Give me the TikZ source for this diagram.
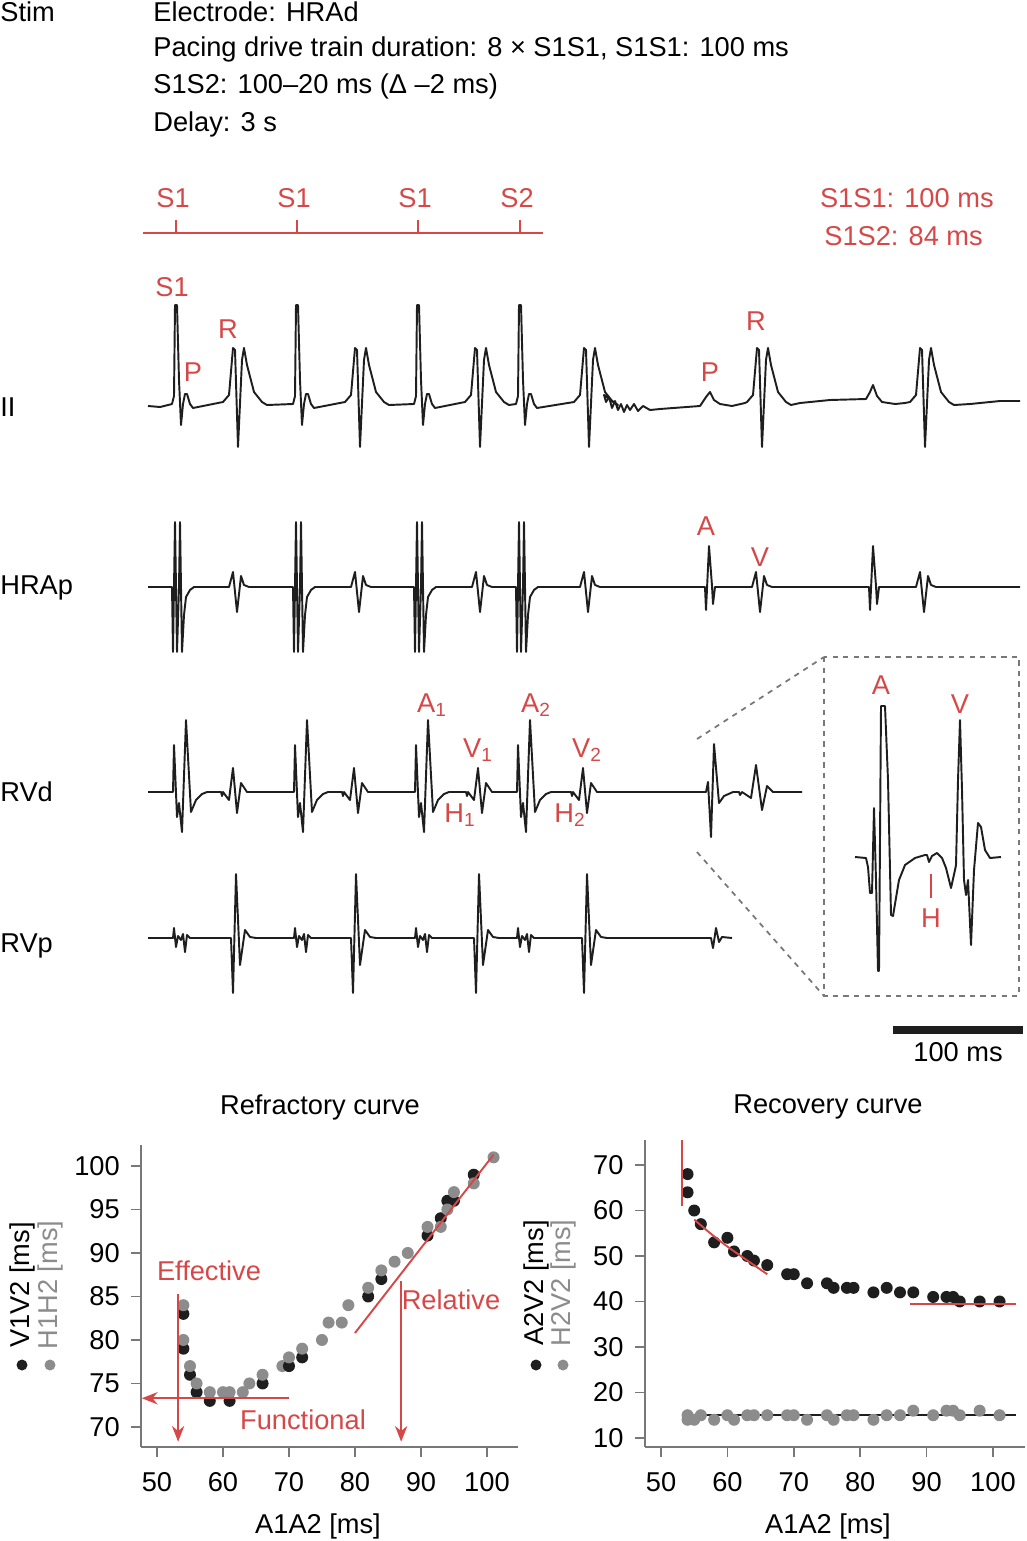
\documentclass[tikz,border=0pt]{standalone}
\usepackage{fontspec}
\setmainfont{Liberation Sans}
\usetikzlibrary{arrows.meta}
\definecolor{lblred}{RGB}{214,72,72}
\definecolor{dotgray}{RGB}{140,140,140}
\definecolor{axgray}{RGB}{120,120,120}
\definecolor{ink}{RGB}{30,30,30}

% beat pieces, S/V/A = x position of the spike
\newcommand\IIstim[1]{-- (#1-4,404) -- (#1-2,396) -- (#1-1,305) -- (#1+1,305) -- (#1+3,380) -- (#1+5,425) -- (#1+7,404) -- (#1+9,394) -- (#1+11,394) -- (#1+14,404) -- (#1+17,408)}
\newcommand\IIqrs[1]{-- (#1-14,402) -- (#1-8,395) -- (#1-4,348) -- (#1-2,350) -- (#1+1,447) -- (#1+5,360) -- (#1+7,348) -- (#1+10,365) -- (#1+17,392) -- (#1+25,402) -- (#1+30,405)}
\newcommand\Astim[1]{-- (#1-4,587) -- (#1-3,652) -- (#1-1,522) -- (#1+1,652) -- (#1+3,587) -- (#1+4,522) -- (#1+6,652) -- (#1+8,615) -- (#1+10,597) -- (#1+14,590) -- (#1+18,587)}
\newcommand\Av[1]{-- (#1-8,587) -- (#1-4,572) -- (#1,612) -- (#1+4,576) -- (#1+7,585) -- (#1+12,587)}
\newcommand\Aa[1]{-- (#1-4,587) -- (#1-3,610) -- (#1,546) -- (#1+3,586) -- (#1+4,604) -- (#1+6,587)}
\newcommand\Rbeat[2]{-- (#1-1,792) -- (#1,745) -- (#1+3,817) -- (#1+5,803) -- (#1+8,832) -- (#1+12,720) -- (#1+17,812) -- (#1+22,800) -- (#1+28,794) -- (#1+33,792) -- (#2-12,792) -- (#2-11,796) -- (#2-10,792) -- (#2-4,800) -- (#2,768) -- (#2+4,813) -- (#2+8,783) -- (#2+14,792)}
\newcommand\Pbeat[2]{-- (#1-1,938) -- (#1,928) -- (#1+2,947) -- (#1+4,936) -- (#1+7,940) -- (#1+9,934) -- (#1+11,952) -- (#1+13,935) -- (#1+16,938) -- (#2-5,938) -- (#2-3,993) -- (#2,874) -- (#2+4,965) -- (#2+9,930) -- (#2+14,937) -- (#2+20,938)}

\begin{document}
\begin{tikzpicture}[x=0.02cm,y=-0.02cm,
  font=\fontsize{15.5}{18}\selectfont,
  txt/.style={inner sep=0pt},
  lbl/.style={inner sep=0pt,text=lblred},
  trace/.style={ink,line width=1.1pt,line join=round},
  redln/.style={lblred,line width=1.1pt},
  redarr/.style={lblred,line width=1.1pt,-{Stealth[length=9pt,width=7pt]}},
  axis/.style={axgray,line width=1pt}]
\useasboundingbox (0,0) rectangle (1027,1541);

% header
\node[txt,anchor=west] (stim) at (0,12) {Stim};
\node[txt,anchor=west] (l1) at (153,12) {Electrode: HRAd};
\node[txt,anchor=west] (l2) at (153,49) {Pacing drive train duration: 8 × S1S1, S1S1: 100 ms};
\node[txt,anchor=west] (l3) at (153,86) {S1S2: 100–20 ms (Δ –2 ms)};
\node[txt,anchor=west] (l4) at (153,124) {Delay: 3 s};

% stimulus line
\draw[lblred,line width=0.6pt] (143,233) -- (543,233);
\foreach \s/\t in {176/S1,297/S1,418/S1,520/S2}{
  \draw[lblred,line width=0.6pt] (\s,220) -- (\s,233);
  \node[lbl] at (\s-3,198) {\t};}
\node[lbl,anchor=east] (s1s1) at (994,198) {S1S1: 100 ms};
\node[lbl,anchor=west] (s1s2) at (824,236) {S1S2: 84 ms};

% lead labels
\node[txt,anchor=west] (ii) at (0,407) {II};
\node[txt,anchor=west] (hrap) at (0,588) {HRAp};
\node[txt,anchor=west] (rvd) at (0,792) {RVd};
\node[txt,anchor=west] (rvp) at (0,946) {RVp};

% lead II
\draw[trace] (148,406) -- (160,407) \IIstim{176} \IIqrs{237} \IIstim{297} \IIqrs{359} \IIstim{418} \IIqrs{479} \IIstim{520} \IIqrs{588}
  -- (604,395) -- (606,402) -- (609,397) -- (612,408) -- (615,401) -- (618,410) -- (621,404) -- (624,412) -- (627,405) -- (630,410) -- (634,404) -- (638,411) -- (643,406) -- (650,410) -- (660,409) -- (700,406) -- (706,397) -- (710,392) -- (714,400) -- (720,404) -- (732,406) -- (745,403)
  \IIqrs{761} -- (800,403) -- (830,400) -- (866,399) -- (870,392) -- (873,385) -- (877,396) -- (882,402) -- (895,404) -- (905,403) \IIqrs{924} -- (970,404) -- (1000,401) -- (1020,401);
\node[lbl] at (172,287) {S1};
\node[lbl] at (228,329) {R};
\node[lbl] at (193,372) {P};
\node[lbl] at (756,321) {R};
\node[lbl] at (710,372) {P};

% HRAp
\draw[trace] (148,587) \Astim{176} \Av{237} \Astim{297} \Av{359} \Astim{418} \Av{480} \Astim{520} \Av{588}
  \Aa{709} \Av{760} \Aa{873} \Av{924} -- (1020,587);
\node[lbl] at (706,526) {A};
\node[lbl] at (760,557) {V};

% RVd
\draw[trace] (148,792) \Rbeat{174}{233} \Rbeat{295}{354} \Rbeat{416}{478} \Rbeat{518}{583}
  -- (706,792) -- (708,782) -- (711,837) -- (714,744) -- (719,803) -- (724,796) -- (733,792) -- (739,792) -- (740,795) -- (742,792) -- (751,798) -- (756,765) -- (762,810) -- (767,786) -- (773,792) -- (802,792);
\node[lbl] at (432,705) {A\textsubscript{1}};
\node[lbl] at (478,750) {V\textsubscript{1}};
\node[lbl] at (536,705) {A\textsubscript{2}};
\node[lbl] at (587,750) {V\textsubscript{2}};
\node[lbl] at (460,815) {H\textsubscript{1}};
\node[lbl] at (570,815) {H\textsubscript{2}};

% RVp
\draw[trace] (148,938) \Pbeat{174}{236} \Pbeat{295}{356} \Pbeat{416}{479} \Pbeat{518}{587}
  -- (711,938) -- (713,948) -- (716,928) -- (719,942) -- (722,937) -- (732,938);

% inset
\draw[axgray,dashed,line width=1pt] (824,657) rectangle (1019,996);
\draw[axgray,dashed,line width=1pt] (697,739) -- (824,657);
\draw[axgray,dashed,line width=1pt] (697,852) -- (824,996);
\draw[trace] (855,857) -- (866,858) -- (868,867) -- (870,893) -- (872,893) -- (874,808) -- (876,880) -- (878,971) -- (879,971) -- (881,706) -- (885,706) -- (888,780) -- (891,915) -- (893,916) -- (899,880) -- (905,865) -- (915,858) -- (925,855) -- (927,855) -- (929,862) -- (932,856) -- (937,853) -- (942,858) -- (946,868) -- (951,888) -- (955,870) -- (956,865) -- (958,780) -- (960,720) -- (962,790) -- (964,880) -- (966,895) -- (968,880) -- (971,945) -- (974,870) -- (978,823) -- (981,827) -- (985,850) -- (990,858) -- (1001,857);
\node[lbl] at (881,685) {A};
\node[lbl] at (960,704) {V};
\draw[lblred,line width=1.2pt] (931,874) -- (931,898);
\node[lbl] at (931,918) {H};

% scale bar
\draw[ink,line width=4pt] (893,1030) -- (1023,1030);
\node[txt] (bar) at (958,1052) {100 ms};

% refractory curve
\node[txt] (t1) at (320,1107) {Refractory curve};
\node[txt] (x1) at (318,1526) {A1A2 [ms]};
\node[txt,rotate=90] (y1a) at (22,1285) {V1V2 [ms]};
\node[txt,rotate=90,text=dotgray] (y1b) at (50,1285) {H1H2 [ms]};
\fill[ink] (22,1365) circle (5.5);
\fill[dotgray] (50,1365) circle (5.5);
\begin{scope}[shift={(157,1166)},x=0.132cm,y=0.174cm]
  \draw[axis] (-2.4,-32.3) -- (54.7,-32.3);
  \draw[axis] (-2.4,-32.3) -- (-2.4,2.4);
  \foreach \v in {50,60,...,100}{
    \draw[axis] (\v-50,-32.3) -- ++(0pt,-0.2cm);
    \node[txt] at (\v-50,-36.3) {\v};}
  \foreach \v in {70,75,...,100}{
    \draw[axis] (-2.4,\v-100) -- ++(-0.2cm,0pt);
    \node[txt,anchor=east] at (-5.6,\v-100) {\v};}
  \foreach \a/\b in {60/74,63/74,64/75,69/77,75/80,76/82,78/82,79/84,86/89,88/90,101/101}
    \fill[dotgray] (\a-50,\b-100) circle (0.12cm);
  \foreach \a/\b in {54/83,54/79,55/76,56/74,58/73,61/73,66/75,70/77,72/78,82/85,84/87,91/92,93/94,94/96,95/96,98/99}
    \fill[ink] (\a-50,\b-100) circle (0.12cm);
  \foreach \a/\b in {54/84,54/80,55/77,56/75,58/74,61/74,66/76,70/78,72/79,82/86,84/88,91/93,93/93,94/95,95/97,98/98}
    \fill[dotgray] (\a-50,\b-100) circle (0.12cm);
  \draw[redln] (30,-19.2) -- (51,1.3);
  \draw[redarr] (3.2,-14.7) -- (3.2,-31.7);
  \draw[redarr] (20,-26.7) -- (-2.3,-26.7);
  \draw[redarr] (37,-13.2) -- (37,-31.7);
\end{scope}
\node[lbl] (eff) at (209,1271) {Effective};
\node[lbl] (rel) at (451,1300) {Relative};
\node[lbl] (fun) at (303,1420) {Functional};

% recovery curve
\node[txt] (t2) at (828,1107) {Recovery curve};
\node[txt] (x2) at (828,1526) {A1A2 [ms]};
\node[txt,rotate=90] (y2a) at (536,1283) {A2V2 [ms]};
\node[txt,rotate=90,text=dotgray] (y2b) at (563,1283) {H2V2 [ms]};
\fill[ink] (536,1365) circle (5.5);
\fill[dotgray] (563,1365) circle (5.5);
\begin{scope}[shift={(661,1165)},x=0.1328cm,y=0.091cm]
  \draw[axis] (-2.4,-62) -- (54.8,-62);
  \draw[axis] (-2.4,-62) -- (-2.4,5.5);
  \foreach \v in {50,60,...,100}{
    \draw[axis] (\v-50,-62) -- ++(0pt,-0.2cm);
    \node[txt] at (\v-50,-69.7) {\v};}
  \foreach \v in {10,20,...,70}{
    \draw[axis] (-2.4,\v-70) -- ++(-0.2cm,0pt);
    \node[txt,anchor=east] at (-5.6,\v-70) {\v};}
  \draw[ink,line width=1.1pt] (5,-55) -- (53.5,-55);
  \foreach \a/\b in {54/15,54/14,55/14,56/15,58/14,60/15,61/14,63/15,64/15,66/15,69/15,70/15,72/14,75/15,76/14,78/15,79/15,82/14,84/15,86/15,88/16,91/15,93/16,94/16,95/15,98/16,101/15}
    \fill[dotgray] (\a-50,\b-70) circle (0.12cm);
  \foreach \a/\b in {54/68,54/64,55/60,56/57,58/53,60/54,61/51,63/50,64/49,66/48,69/46,70/46,72/44,75/44,76/43,78/43,79/43,82/42,84/43,86/42,88/42,91/41,93/41,94/41,95/40,98/40,101/40}
    \fill[ink] (\a-50,\b-70) circle (0.12cm);
  \draw[redln] (3.2,5.5) -- (3.2,-9);
  \draw[redln] (5,-12) .. controls (9,-17) .. (16,-24);
  \draw[redln] (37.5,-30.5) -- (53.5,-30.5);
\end{scope}
\end{tikzpicture}
\end{document}
